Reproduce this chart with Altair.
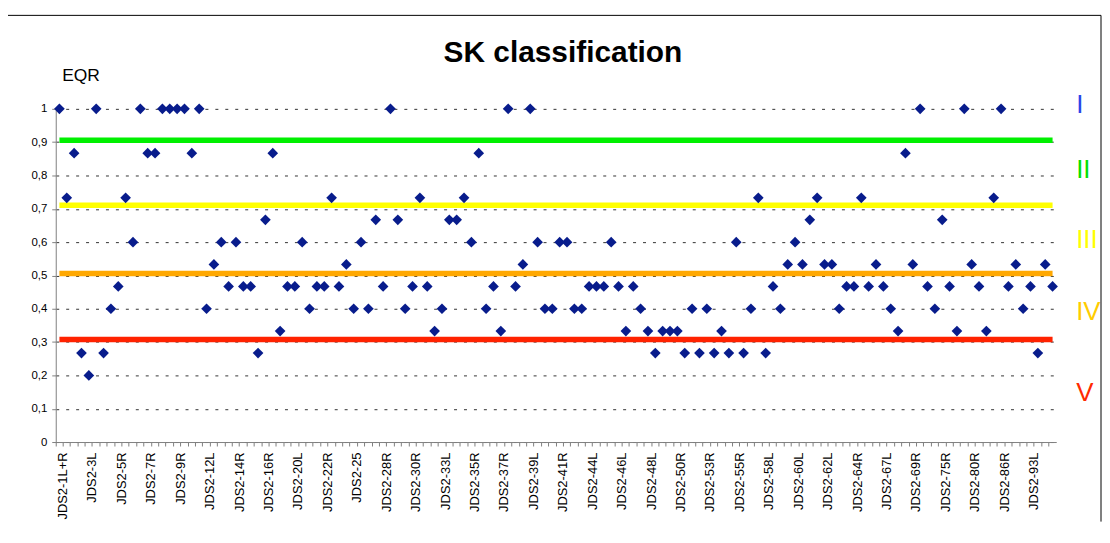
import altair as alt
import pandas as pd

# EQR value per sampling site (136 sites, left to right)
eqr = [
    1, 0.733, 0.867, 0.267, 0.2, 1, 0.267, 0.4, 0.467, 0.733,
    0.6, 1, 0.867, 0.867, 1, 1, 1, 1, 0.867, 1,
    0.4, 0.533, 0.6, 0.467, 0.6, 0.467, 0.467, 0.267, 0.667, 0.867,
    0.333, 0.467, 0.467, 0.6, 0.4, 0.467, 0.467, 0.733, 0.467, 0.533,
    0.4, 0.6, 0.4, 0.667, 0.467, 1, 0.667, 0.4, 0.467, 0.733,
    0.467, 0.333, 0.4, 0.667, 0.667, 0.733, 0.6, 0.867, 0.4, 0.467,
    0.333, 1, 0.467, 0.533, 1, 0.6, 0.4, 0.4, 0.6, 0.6,
    0.4, 0.4, 0.467, 0.467, 0.467, 0.6, 0.467, 0.333, 0.467, 0.4,
    0.333, 0.267, 0.333, 0.333, 0.333, 0.267, 0.4, 0.267, 0.4, 0.267,
    0.333, 0.267, 0.6, 0.267, 0.4, 0.733, 0.267, 0.467, 0.4, 0.533,
    0.6, 0.533, 0.667, 0.733, 0.533, 0.533, 0.4, 0.467, 0.467, 0.733,
    0.467, 0.533, 0.467, 0.4, 0.333, 0.867, 0.533, 1, 0.467, 0.4,
    0.667, 0.467, 0.333, 1, 0.533, 0.467, 0.333, 0.733, 1, 0.467,
    0.533, 0.4, 0.467, 0.267, 0.533, 0.467,
]

# labels shown on the category axis (every 4th site)
shown_labels = [
    "JDS2-1L+R", "JDS2-3L", "JDS2-5R", "JDS2-7R", "JDS2-9R", "JDS2-12L",
    "JDS2-14R", "JDS2-16R", "JDS2-20L", "JDS2-22R", "JDS2-25", "JDS2-28R",
    "JDS2-30R", "JDS2-33L", "JDS2-35R", "JDS2-37R", "JDS2-39L", "JDS2-41R",
    "JDS2-44L", "JDS2-46L", "JDS2-48L", "JDS2-50R", "JDS2-53R", "JDS2-55R",
    "JDS2-58L", "JDS2-60L", "JDS2-62L", "JDS2-64R", "JDS2-67L", "JDS2-69R",
    "JDS2-75R", "JDS2-80R", "JDS2-86R", "JDS2-93L",
]

title_text = ["SK classification"]

# class boundary lines
thresholds = [0.906, 0.711, 0.506, 0.308]
threshold_colors = ["#00f000", "#ffff00", "#ffa800", "#ff2200"]

# class names on the right
classes = ["I", "II", "III", "IV", "V"]
class_pos = [1.01, 0.815, 0.607, 0.39, 0.148]
class_colors = ["#2a45e8", "#00e000", "#ffff00", "#ffcc00", "#ff2a00"]

yticks = [0, 0.1, 0.2, 0.3, 0.4, 0.5, 0.6, 0.7, 0.8, 0.9, 1]

n = len(eqr)
W, H = 1006, 335
step = W / n

pts = pd.DataFrame({"idx": list(range(n)), "eqr": eqr})
thr = pd.DataFrame(
    [{"idx": i, "eqr": v, "line": k} for k, v in enumerate(thresholds) for i in (0, n - 1)]
)
cls = pd.DataFrame({"cls": classes, "eqr": class_pos})
frame = pd.DataFrame({"k": [0]})
ttl = pd.DataFrame({"t": title_text})

label_arr = [shown_labels[i // 4] if i % 4 == 0 else "" for i in range(n)]
label_expr = "[" + ",".join("'%s'" % s for s in label_arr) + "][datum.value]"

x_enc = alt.X(
    "idx:O",
    scale=alt.Scale(type="band", paddingInner=0, paddingOuter=0),
    axis=alt.Axis(
        title=None,
        labelExpr=label_expr,
        labelAngle=-90,
        labelOverlap=False,
        labelFontSize=13,
        labelColor="#000000",
        labelPadding=6,
        bandPosition=0,
        labelOffset=step / 2,
        tickSize=4,
        tickColor="#808080",
        domainColor="#808080",
        grid=False,
    ),
)

y_enc = alt.Y(
    "eqr:Q",
    scale=alt.Scale(domain=[0, 1], nice=False, zero=True),
    axis=alt.Axis(
        values=yticks,
        labelExpr="datum.value == 0 ? '0' : datum.value == 1 ? '1' : replace(format(datum.value, '.1f'), '.', ',')",
        labelFontSize=11.5,
        labelColor="#000000",
        labelPadding=5,
        tickSize=4,
        tickColor="#808080",
        domainColor="#808080",
        grid=True,
        gridDash=[3, 7],
        gridColor="#333333",
        gridWidth=1,
        title="EQR",
        titleAngle=0,
        titleAlign="left",
        titleBaseline="alphabetic",
        titleX=6,
        titleY=-29,
        titleFontSize=17.5,
        titleFontWeight="normal",
        titleColor="#000000",
    ),
)

lines = alt.Chart(thr).mark_line(strokeWidth=5.5, strokeCap="butt").encode(
    x=x_enc,
    y=y_enc,
    color=alt.Color(
        "line:N",
        scale=alt.Scale(domain=list(range(len(thresholds))), range=threshold_colors),
        legend=None,
    ),
    detail="line:N",
)

points = alt.Chart(pts).mark_point(
    shape="diamond", filled=True, size=115, color="#081c8c", opacity=1
).encode(x=x_enc, y=y_enc)

labels = alt.Chart(cls).mark_text(
    align="left", baseline="middle", fontSize=26, font="Liberation Sans"
).encode(
    x=alt.value(W + 20),
    y=y_enc,
    text="cls:N",
    color=alt.Color("cls:N", scale=alt.Scale(domain=classes, range=class_colors), legend=None),
)

title_mark = alt.Chart(ttl).mark_text(
    align="center", baseline="alphabetic", fontSize=30, fontWeight="bold",
    font="Liberation Sans", color="#000000",
).encode(x=alt.value(510), y=alt.value(-47), text="t:N")

# chart-area border (top and right edges)
border_top = alt.Chart(frame).mark_rule(color="#000000", strokeWidth=1).encode(
    x=alt.value(-48), x2=alt.value(W + 45), y=alt.value(-94)
)
border_right = alt.Chart(frame).mark_rule(color="#000000", strokeWidth=1).encode(
    x=alt.value(W + 45), y=alt.value(-94), y2=alt.value(H + 80)
)

chart = (
    alt.layer(lines, points, labels, title_mark, border_top, border_right)
    .resolve_scale(color="independent")
    .properties(
        width=W,
        height=H,
        autosize=alt.AutoSizeParams(type="none"),
        padding={"left": 48, "top": 100, "right": 46, "bottom": 80},
    )
    .configure(font="Liberation Sans")
    .configure_view(stroke=None)
)

chart.save("out.html", embed_options={"renderer": "svg", "actions": False})
